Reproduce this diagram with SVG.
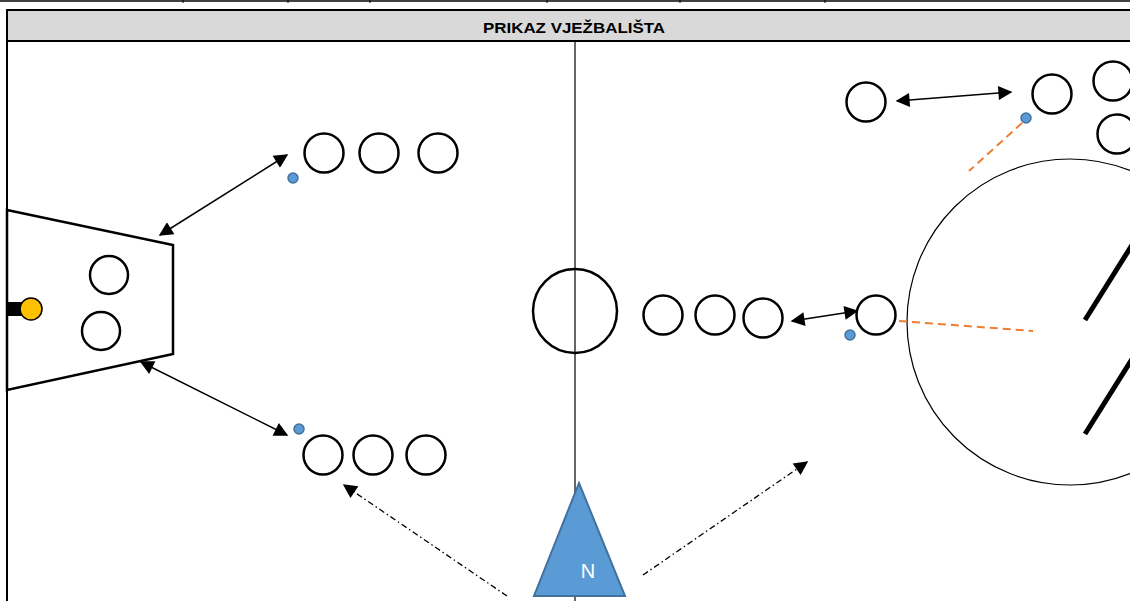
<svg xmlns="http://www.w3.org/2000/svg" width="1130" height="601" viewBox="0 0 1130 601">
<style>
.p{fill:#fff;stroke:#000;stroke-width:2.5}
.dot{fill:#5B9BD5;stroke:#41719C;stroke-width:1.5}
.ar{fill:none;stroke:#000;stroke-width:1.5}
.dd{fill:none;stroke:#000;stroke-width:1.3;stroke-dasharray:6 3 1.5 3}
.or{fill:none;stroke:#ED7D31;stroke-width:2;stroke-dasharray:8 5}
</style>
<defs>
<marker id="ah" viewBox="0 0 10 10" refX="9" refY="5" markerWidth="17" markerHeight="14" markerUnits="userSpaceOnUse" orient="auto-start-reverse">
<path d="M0,0 L10,5 L0,10 z" fill="#000"/>
</marker>
</defs>
<rect width="1130" height="601" fill="#fff"/>
<g id="topline">
<line x1="0" y1="1" x2="1130" y2="1" stroke="#000" stroke-width="1.5"/>
<line x1="183" y1="0" x2="183" y2="3" stroke="#000"/>
<line x1="288" y1="0" x2="288" y2="3" stroke="#000"/>
<line x1="370" y1="0" x2="370" y2="3" stroke="#000"/>
<line x1="547" y1="0" x2="547" y2="3" stroke="#000"/>
<line x1="680" y1="0" x2="680" y2="3" stroke="#000"/>
<line x1="825" y1="0" x2="825" y2="3" stroke="#000"/>
</g>
<g id="header">
<rect x="7" y="10" width="1130" height="31" fill="#D9D9D9" stroke="#000" stroke-width="2"/>
<text x="574" y="33" font-family="Liberation Sans, Arial, sans-serif" font-weight="bold" font-size="15" text-anchor="middle" textLength="182" lengthAdjust="spacingAndGlyphs">PRIKAZ VJEŽBALIŠTA</text>
</g>
<g id="field">
<line x1="7" y1="41" x2="7" y2="601" stroke="#000" stroke-width="2"/>
<line x1="575" y1="41" x2="575" y2="601" stroke="#000" stroke-width="1.2"/>
<circle cx="575" cy="311" r="42" fill="none" stroke="#000" stroke-width="2.5"/>
<circle cx="1070" cy="322" r="163" fill="none" stroke="#000" stroke-width="1.2"/>
<line x1="1085" y1="320" x2="1132" y2="245" stroke="#000" stroke-width="5"/>
<line x1="1085" y1="434" x2="1132" y2="359" stroke="#000" stroke-width="5"/>
</g>
<g id="goal-area">
<polygon points="7,210 173,245 173,354 7,390" fill="#fff" stroke="#000" stroke-width="2.5"/>
<rect x="7" y="302" width="16" height="14" fill="#000"/>
<circle cx="31" cy="309" r="11" fill="#FFC000" stroke="#000" stroke-width="1.5"/>
</g>
<g id="players">
<circle class="p" cx="109" cy="275" r="19"/>
<circle class="p" cx="101" cy="331" r="19"/>
<circle class="p" cx="324" cy="153" r="19.5"/>
<circle class="p" cx="379" cy="153" r="19.5"/>
<circle class="p" cx="438" cy="153" r="19.5"/>
<circle class="p" cx="323" cy="455" r="19.5"/>
<circle class="p" cx="373" cy="455" r="19.5"/>
<circle class="p" cx="426" cy="455" r="19.5"/>
<circle class="p" cx="663" cy="315" r="19.5"/>
<circle class="p" cx="715" cy="315" r="19.5"/>
<circle class="p" cx="763" cy="318" r="19.5"/>
<circle class="p" cx="876" cy="315" r="19.5"/>
<circle class="p" cx="866" cy="102" r="19.5"/>
<circle class="p" cx="1052" cy="94" r="19.5"/>
<circle class="p" cx="1113" cy="81" r="19.5"/>
<circle class="p" cx="1117" cy="134" r="19.5"/>
</g>
<g id="balls">
<circle class="dot" cx="293" cy="178" r="5"/>
<circle class="dot" cx="299" cy="429" r="5"/>
<circle class="dot" cx="850" cy="335" r="5"/>
<circle class="dot" cx="1026" cy="118" r="5"/>
</g>
<g id="connectors">
<line class="ar" x1="160" y1="235" x2="287" y2="155" marker-start="url(#ah)" marker-end="url(#ah)"/>
<line class="ar" x1="141" y1="362" x2="287" y2="435" stroke-width="2" marker-start="url(#ah)" marker-end="url(#ah)"/>
<line class="ar" x1="792" y1="321" x2="857" y2="311" marker-start="url(#ah)" marker-end="url(#ah)"/>
<line class="ar" x1="897" y1="101" x2="1011" y2="92" marker-start="url(#ah)" marker-end="url(#ah)"/>
<line class="dd" x1="507" y1="596" x2="344" y2="485" marker-end="url(#ah)"/>
<line class="dd" x1="643" y1="575" x2="807" y2="462" marker-end="url(#ah)"/>
<line class="or" x1="1022" y1="123" x2="969" y2="171"/>
<line class="or" x1="899" y1="321" x2="1033" y2="331"/>
</g>
<g id="north">
<polygon points="579,483 534,596 625,596" fill="#5B9BD5" stroke="#41719C" stroke-width="2"/>
<text x="588" y="578" font-family="Liberation Sans, Arial, sans-serif" font-size="20" fill="#fff" text-anchor="middle">N</text>
</g>
</svg>
